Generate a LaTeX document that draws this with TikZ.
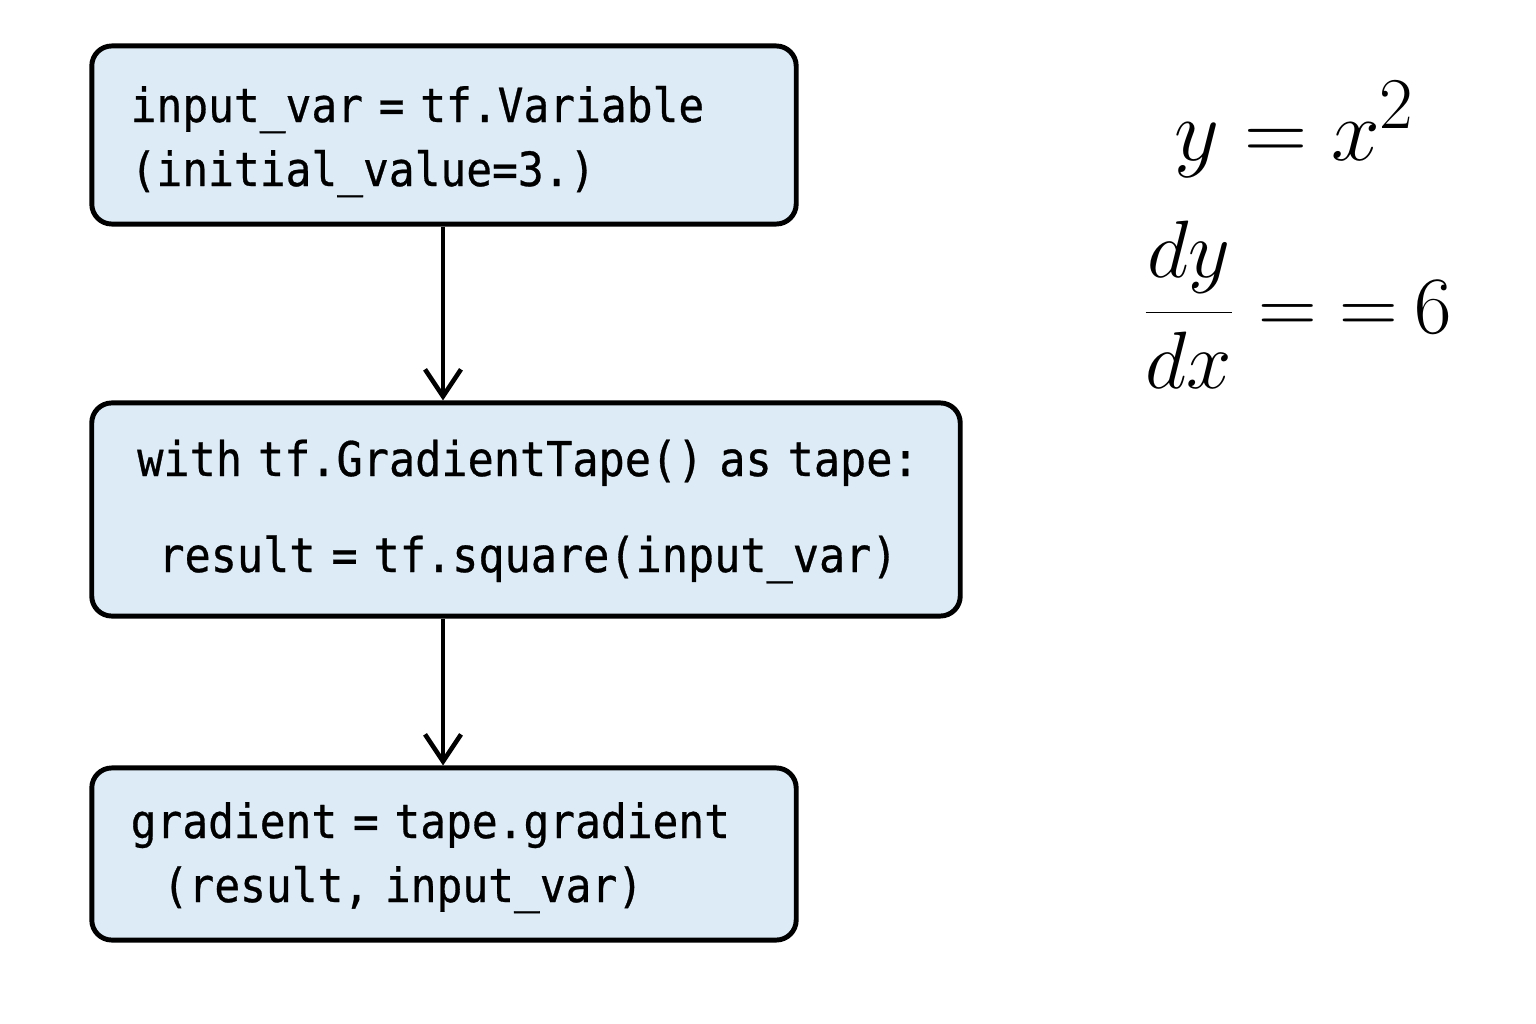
\documentclass[tikz,border=0pt]{standalone}
\usepackage{fontspec}
\newfontfamily\codefont[FakeStretch=0.91,FakeBold=0.6]{DejaVu Sans Mono}
\usetikzlibrary{arrows.meta}
\definecolor{boxfill}{HTML}{DDEBF7}
\tikzset{
  codebox/.style={draw=black, line width=1.4pt, fill=boxfill, rounded corners=0.2cm, inner sep=0pt},
  codetext/.style={inner sep=0pt, font=\codefont\fontsize{13.4pt}{18.2pt}\selectfont},
  flow/.style={line width=1.3pt, -{Straight Barb[length=0.27cm,width=0.36cm,line width=1.3pt]}},
  mathtext/.style={font=\fontsize{24.88pt}{30pt}\selectfont, inner sep=0pt}
}
\begin{document}
\begin{tikzpicture}[x=0.01cm,y=-0.01cm]
\useasboundingbox (0,0) rectangle (1536,1024);
\node[codebox, minimum width=7.04cm, minimum height=1.78cm] (b1) at (444,135) {};
\node[codetext, text width=6.28cm, align=left, anchor=base west] (t1) at (130,122)
  {input\_var = tf.Variable\\(initial\_value=3.)};
\node[codebox, minimum width=8.68cm, minimum height=2.13cm] (b2) at (526,509.5) {};
\node[codetext, text width=8.4cm, align=center, anchor=base, font=\codefont\fontsize{13.6pt}{27.3pt}\selectfont] (t2) at (528,476)
  {with tf.GradientTape() as tape:\\result = tf.square(input\_var)};
\node[codebox, minimum width=7.04cm, minimum height=1.72cm] (b3) at (444,854) {};
\node[codetext, text width=6.28cm, align=left, anchor=base west] (t3) at (130,838)
  {gradient = tape.gradient\\\hspace*{0.32cm}(result, input\_var)};
\draw[flow] (b1.south -| 443,0) -- (b2.north -| 443,0);
\draw[flow] (b2.south -| 443,0) -- (b3.north -| 443,0);
\node[mathtext, anchor=base] (eq1) at (1295,160) {$y = x^{2}$};
\node[mathtext, anchor=base west, scale=0.93] (eq2) at (1141,333) {$\displaystyle\frac{dy}{dx} = {=}\mkern3.5mu 6$};
\end{tikzpicture}
\end{document}
